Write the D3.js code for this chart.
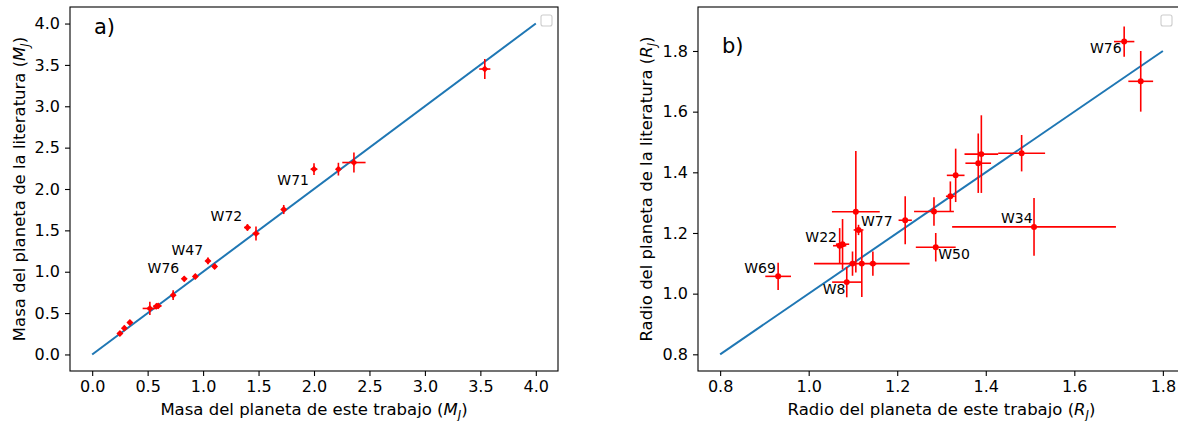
<!DOCTYPE html>
<html>
<head>
<meta charset="utf-8">
<script src="https://cdn.jsdelivr.net/npm/d3@7"></script>
<style>
  body { margin: 0; background: #fff; }
  svg { display: block; font-family: "DejaVu Sans", sans-serif; }
</style>
</head>
<body>
<div id="chart"></div>
<script>
"use strict"

/**
 * DATA
 * */

// panel a) masses (M_J)
const massX    = [0.25, 0.29, 0.34, 0.52, 0.58, 0.595, 0.73, 0.83, 0.93, 1.044, 1.104, 1.40, 1.477, 1.727, 2.00, 2.22, 2.36, 3.54];
const massY    = [0.254, 0.318, 0.387, 0.556, 0.584, 0.587, 0.717, 0.914, 0.943, 1.131, 1.063, 1.535, 1.462, 1.752, 2.24, 2.24, 2.32, 3.45];
const massXErr = [0.02, 0.02, 0.02, 0.065, 0.03, 0.03, 0.02, 0.02, 0.02, 0.02, 0.02, 0.03, 0.03, 0.02, 0.03, 0.02, 0.105, 0.05];
const massYErr = [0.03, 0.03, 0.03, 0.08, 0.03, 0.03, 0.06, 0.03, 0.03, 0.04, 0.03, 0.04, 0.085, 0.055, 0.07, 0.077, 0.12, 0.12];
const massLabels = ["W71", "W72", "W47", "W76"];
const massLabelX = [1.955, 1.353, 1.001, 0.785];
const massLabelY = [2.115, 1.671, 1.269, 1.051];
const massTicks  = [0.0, 0.5, 1.0, 1.5, 2.0, 2.5, 3.0, 3.5, 4.0];

// panel b) radii (R_J)
const radX    = [1.7126, 1.750, 1.481, 1.390, 1.383, 1.332, 1.320, 1.283, 1.218, 1.509, 1.287, 1.1065, 1.1126, 1.070, 1.0765, 1.099, 1.12, 1.145, 1.086, 0.931];
const radY    = [1.831, 1.700, 1.463, 1.460, 1.430, 1.390, 1.321, 1.271, 1.242, 1.220, 1.153, 1.270, 1.210, 1.158, 1.163, 1.099, 1.099, 1.099, 1.038, 1.057];
const radXErr = [0.023, 0.028, 0.053, 0.038, 0.029, 0.02, 0.01, 0.045, 0.015, 0.185, 0.045, 0.054, 0.011, 0.015, 0.015, 0.008, 0.108, 0.008, 0.033, 0.029];
const radYErr = [0.05, 0.10, 0.06, 0.128, 0.098, 0.088, 0.049, 0.047, 0.079, 0.095, 0.047, 0.2, 0.017, 0.058, 0.083, 0.04, 0.11, 0.04, 0.05, 0.045];
const radLabels  = ["W76", "W77", "W22", "W69", "W8", "W34", "W50"];
const radLabelX  = [1.707, 1.118, 1.064, 0.926, 1.083, 1.506, 1.2925];
const radLabelY  = [1.81, 1.241, 1.187, 1.086, 1.015, 1.25, 1.132];
const radLabelAnchor = ["end", "start", "end", "end", "end", "end", "start"];
const radTicks   = [0.8, 1.0, 1.2, 1.4, 1.6, 1.8];

/**
 * CONSTANTS AND GLOBALS
 * */
const width = 1178,
  height = 421,
  fontSize = 16,
  titleSize = 16.5,
  lineBlue = "#1f77b4";

let svg;

const panels = [
  {
    tag: "a)", tagPos: [94, 34],
    x: massX, y: massY, xe: massXErr, ye: massYErr,
    labels: massLabels, lx: massLabelX, ly: massLabelY, anchor: massLabels.map(() => "end"),
    ticks: massTicks, line: [0, 4],
    xDomain: [-0.2, 4.2], yDomain: [-0.2, 4.2],
    xRange: [70, 558], yRange: [371, 7],
    marker: "diamond",
    xLabel: ["Masa del planeta de este trabajo (", "M", "J", ")"],
    yLabel: ["Masa del planeta de la literatura (", "M", "J", ")"],
    yLabelX: 25
  },
  {
    tag: "b)", tagPos: [722, 53],
    x: radX, y: radY, xe: radXErr, ye: radYErr,
    labels: radLabels, lx: radLabelX, ly: radLabelY, anchor: radLabelAnchor,
    ticks: radTicks, line: [0.8, 1.8],
    xDomain: [0.75, 1.85], yDomain: [0.745, 1.945],
    xRange: [698, 1185], yRange: [371, 7],
    marker: "circle",
    xLabel: ["Radio del planeta de este trabajo (", "R", "J", ")"],
    yLabel: ["Radio del planeta de la literatura (", "R", "J", ")"],
    yLabelX: 652
  }
];

init();

function init() {
  svg = d3.select("#chart")
    .append("svg")
    .attr("width", width)
    .attr("height", height);

  panels.forEach(drawPanel);
}

function mathLabel(text, parts) {
  text.append("tspan").text(parts[0]);
  text.append("tspan").style("font-style", "italic").text(parts[1]);
  text.append("tspan").style("font-style", "italic")
    .attr("font-size", titleSize * 0.7).attr("dy", 4).text(parts[2]);
  text.append("tspan").attr("dy", -4).text(parts[3]);
}

function drawPanel(p) {
  const x = d3.scaleLinear().domain(p.xDomain).range(p.xRange);
  const y = d3.scaleLinear().domain(p.yDomain).range(p.yRange);
  const g = svg.append("g");

  // 1:1 line
  g.append("line")
    .attr("x1", x(p.line[0])).attr("y1", y(p.line[0]))
    .attr("x2", x(p.line[1])).attr("y2", y(p.line[1]))
    .attr("stroke", lineBlue)
    .attr("stroke-width", 2);

  const pts = p.x.map((d, i) => ({ x: d, y: p.y[i], xe: p.xe[i], ye: p.ye[i] }));

  const err = g.append("g")
    .attr("stroke", "red")
    .attr("stroke-width", 1.6)
    .selectAll("g")
    .data(pts)
    .join("g");

  err.append("line")
    .attr("x1", d => x(d.x - d.xe)).attr("x2", d => x(d.x + d.xe))
    .attr("y1", d => y(d.y)).attr("y2", d => y(d.y));
  err.append("line")
    .attr("x1", d => x(d.x)).attr("x2", d => x(d.x))
    .attr("y1", d => y(d.y - d.ye)).attr("y2", d => y(d.y + d.ye));

  // square turned 45deg for the diamonds of panel a)
  const sym = d3.symbol()
    .type(p.marker === "diamond" ? d3.symbolSquare : d3.symbolCircle)
    .size(p.marker === "diamond" ? 24 : 28);
  const rot = p.marker === "diamond" ? " rotate(45)" : "";

  g.append("g")
    .selectAll("path")
    .data(pts)
    .join("path")
      .attr("transform", d => `translate(${x(d.x)},${y(d.y)})${rot}`)
      .attr("d", sym)
      .attr("fill", "red");

  // point names
  g.append("g")
    .attr("font-size", 14)
    .selectAll("text")
    .data(p.labels)
    .join("text")
      .attr("x", (d, i) => x(p.lx[i]))
      .attr("y", (d, i) => y(p.ly[i]))
      .attr("dy", "0.36em")
      .attr("text-anchor", (d, i) => p.anchor[i])
      .text(d => d);

  // frame
  g.append("rect")
    .attr("x", p.xRange[0]).attr("y", p.yRange[1])
    .attr("width", p.xRange[1] - p.xRange[0])
    .attr("height", p.yRange[0] - p.yRange[1])
    .attr("fill", "none")
    .attr("stroke", "#000")
    .attr("stroke-width", 1.1);

  // empty legend box
  g.append("rect")
    .attr("x", Math.min(p.xRange[1], width) - 17).attr("y", p.yRange[1] + 8)
    .attr("width", 11).attr("height", 11)
    .attr("rx", 2)
    .attr("fill", "#fff")
    .attr("stroke", "#ccc")
    .attr("stroke-width", 1.1);

  // axes
  const fmt = d3.format(".1f");
  const xAxis = g.append("g")
    .attr("transform", `translate(0,${p.yRange[0]})`)
    .call(d3.axisBottom(x).tickValues(p.ticks).tickFormat(fmt).tickSize(5).tickPadding(5));
  const yAxis = g.append("g")
    .attr("transform", `translate(${p.xRange[0]},0)`)
    .call(d3.axisLeft(y).tickValues(p.ticks).tickFormat(fmt).tickSize(5).tickPadding(5));

  [xAxis, yAxis].forEach(a => {
    a.select(".domain").remove();
    a.selectAll("line").attr("stroke-width", 1.1);
    a.selectAll("text")
      .attr("font-size", fontSize)
      .attr("font-family", "DejaVu Sans")
      .attr("fill", "#000");
  });

  // axis titles
  const xt = g.append("text")
    .attr("x", x(p.line[0] + (p.line[1] - p.line[0]) / 2))
    .attr("y", 415)
    .attr("text-anchor", "middle")
    .attr("font-size", titleSize);
  mathLabel(xt, p.xLabel);

  const yt = g.append("text")
    .attr("transform", `translate(${p.yLabelX},${(p.yRange[0] + p.yRange[1]) / 2}) rotate(-90)`)
    .attr("text-anchor", "middle")
    .attr("font-size", titleSize);
  mathLabel(yt, p.yLabel);

  // panel tag
  g.append("text")
    .attr("x", p.tagPos[0]).attr("y", p.tagPos[1])
    .attr("font-size", 21)
    .text(p.tag);
}
</script>
</body>
</html>
